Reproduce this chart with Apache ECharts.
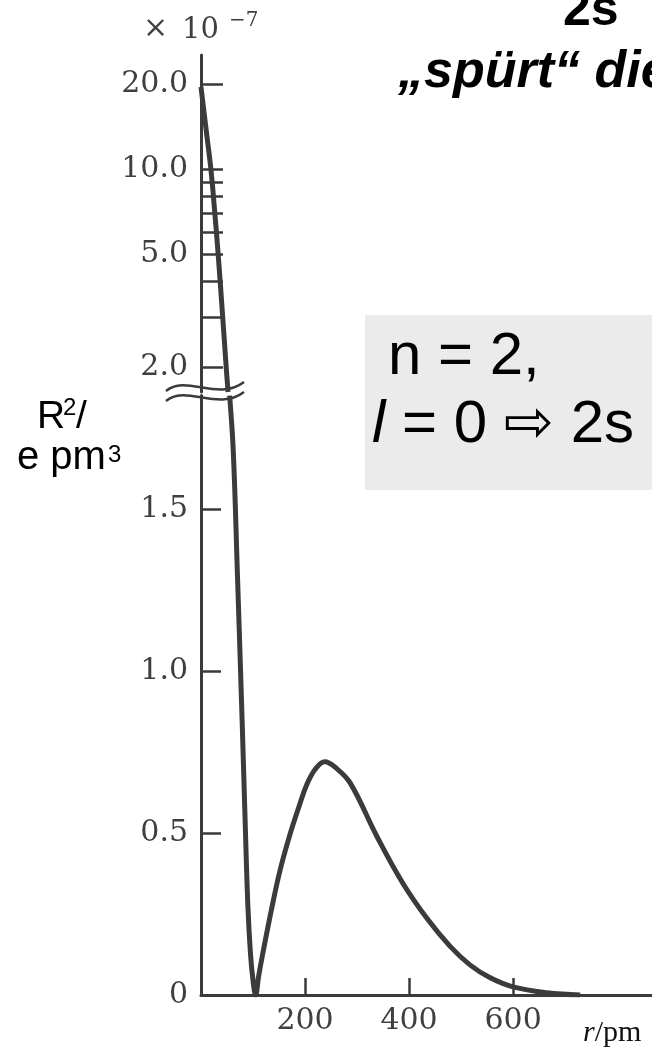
<!DOCTYPE html>
<html>
<head>
<meta charset="utf-8">
<script src="https://cdn.jsdelivr.net/npm/echarts@6/dist/echarts.min.js"></script>
<style>
html, body { margin: 0; padding: 0; background: #fff; }
#chart { width: 652px; height: 1050px; }
</style>
</head>
<body>
<div id="chart"></div>
<script>
// 上段（对数刻度，断轴以上）
const upperR = [0, 10, 19, 26, 33, 41, 48, 52];
const upperVal = [19.5, 13.7, 10, 7.2, 5, 3.13, 2.05, 1.63];

// 下段（线性刻度）
const lowerR = [55, 62, 70, 79, 85, 90, 95, 100, 105, 111, 119, 135, 152, 170, 187, 204, 221, 238, 260, 287, 338, 388, 435, 479, 517, 556, 600, 665, 729];
const lowerVal = [1.85, 1.68, 1.30, 0.85, 0.53, 0.28, 0.13, 0.045, 0, 0.06, 0.13, 0.26, 0.385, 0.49, 0.575, 0.652, 0.70, 0.72, 0.70, 0.654, 0.49, 0.345, 0.235, 0.15, 0.093, 0.053, 0.025, 0.007, 0];

// 刻度
const xTickVals = [200, 400, 600];
const lowTickVals = [0.5, 1.0, 1.5];
const lowLabelVals = [0, 0.5, 1.0, 1.5];
const logTickVals = [2, 3, 4, 5, 6, 7, 8, 9, 10, 20];
const logLabelVals = [2, 5, 10, 20];

const inkColor = '#3b3b3b';
const labelFont = { color: '#3f3f3f', fontFamily: 'DejaVu Serif', fontSize: 30 };

const chart = echarts.init(document.getElementById('chart'));

const option = {
    animation: false,
    backgroundColor: '#fff',
    grid: [
        { left: 201, top: 55, width: 451, height: 337 },
        { left: 201, top: 395.6, width: 451, height: 599.4 }
    ],
    xAxis: [
        { gridIndex: 0, type: 'value', min: 0, max: 867, show: false },
        {
            gridIndex: 1, type: 'value', min: 0, max: 867,
            axisLine: { lineStyle: { color: inkColor, width: 3 } },
            axisTick: { customValues: xTickVals, inside: true, length: 17, lineStyle: { color: inkColor, width: 2.5 } },
            axisLabel: Object.assign({ customValues: xTickVals, margin: 11 }, labelFont),
            splitLine: { show: false }
        }
    ],
    yAxis: [
        {
            gridIndex: 0, type: 'log', logBase: 10, min: 1.63, max: 25.3,
            axisLine: { show: true, lineStyle: { color: inkColor, width: 3 } },
            axisTick: { show: true, customValues: logTickVals, inside: true, length: 22, lineStyle: { color: inkColor, width: 2.5 } },
            axisLabel: Object.assign({
                customValues: logLabelVals, margin: 13,
                formatter: v => Number(v).toFixed(1)
            }, labelFont),
            splitLine: { show: false }
        },
        {
            gridIndex: 1, type: 'value', min: 0, max: 1.85,
            axisLine: { show: true, lineStyle: { color: inkColor, width: 3 } },
            axisTick: { show: true, customValues: lowTickVals, inside: true, length: 20, lineStyle: { color: inkColor, width: 2.5 } },
            axisLabel: Object.assign({
                customValues: lowLabelVals, margin: 13,
                formatter: v => (v === 0 ? '0' : Number(v).toFixed(1))
            }, labelFont),
            splitLine: { show: false }
        }
    ],
    series: [
        {
            type: 'line', xAxisIndex: 0, yAxisIndex: 0,
            data: upperR.map((r, i) => [r, upperVal[i]]),
            showSymbol: false, smooth: 0.4,
            lineStyle: { color: inkColor, width: 5 }
        },
        {
            type: 'line', xAxisIndex: 1, yAxisIndex: 1,
            data: lowerR.map((r, i) => [r, lowerVal[i]]),
            showSymbol: false, smooth: 0.4,
            lineStyle: { color: inkColor, width: 5 }
        }
    ],
    graphic: [
        // 灰色文本框
        { type: 'rect', z: 0, shape: { x: 365, y: 315, width: 300, height: 175 }, style: { fill: '#ebebeb' } },
        { type: 'text', z: 10, x: 388, y: 387, style: { text: 'n = 2,', font: '60px "Liberation Sans"', fill: '#000', verticalAlign: 'bottom' } },
        { type: 'text', z: 10, x: 372, y: 455, style: { text: '{i|l} = 0 \u21E8 2s', font: '60px "Liberation Sans", "DejaVu Sans"', fill: '#000', verticalAlign: 'bottom',
            rich: { i: { fontStyle: 'italic', fontSize: 60, fontFamily: 'Liberation Sans' } } } },
        // 标题（被裁切）
        { type: 'text', z: 10, x: 563, y: 36, style: { text: '2s', font: 'bold 50px "Liberation Sans"', fill: '#000', verticalAlign: 'bottom' } },
        { type: 'text', z: 10, x: 398, y: 99, style: { text: '\u201Esp\u00FCrt\u201C die', font: 'italic bold 52px "Liberation Sans"', fill: '#000', verticalAlign: 'bottom' } },
        // 纵轴名称
        { type: 'text', z: 10, x: 37, y: 437, style: { text: 'R', font: '39px "Liberation Sans"', fill: '#000', verticalAlign: 'bottom' } },
        { type: 'text', z: 10, x: 63, y: 420, style: { text: '2', font: '24px "Liberation Sans"', fill: '#000', verticalAlign: 'bottom' } },
        { type: 'text', z: 10, x: 76, y: 437, style: { text: '/', font: '39px "Liberation Sans"', fill: '#000', verticalAlign: 'bottom' } },
        { type: 'text', z: 10, x: 17, y: 478, style: { text: 'e pm', font: '40px "Liberation Sans"', fill: '#000', verticalAlign: 'bottom' } },
        { type: 'text', z: 10, x: 108, y: 467, style: { text: '3', font: '24px "Liberation Sans"', fill: '#000', verticalAlign: 'bottom' } },
        // 数量级
        { type: 'text', z: 10, x: 143, y: 44, style: { text: '\u00D7', font: '30px "DejaVu Serif"', fill: '#3f3f3f', verticalAlign: 'bottom' } },
        { type: 'text', z: 10, x: 182, y: 45, style: { text: '10', font: '29px "DejaVu Serif"', fill: '#3f3f3f', verticalAlign: 'bottom' } },
        { type: 'text', z: 10, x: 229, y: 31, style: { text: '\u22127', font: '20px "DejaVu Serif"', fill: '#3f3f3f', verticalAlign: 'bottom' } },
        // 横轴名称
        { type: 'text', z: 10, x: 583, y: 1048, style: { text: '{i|r}/pm', font: '30px "Liberation Serif"', fill: '#111', verticalAlign: 'bottom',
            rich: { i: { fontStyle: 'italic', fontSize: 30, fontFamily: 'Liberation Serif', fill: '#111' } } } },
        // 断轴波浪线
        { type: 'bezierCurve', z: 100, shape: { x1: 166, y1: 391, cpx1: 186, cpy1: 374, cpx2: 218, cpy2: 402, x2: 244, y2: 382 }, style: { stroke: inkColor, lineWidth: 2.5, fill: null } },
        { type: 'bezierCurve', z: 100, shape: { x1: 166, y1: 401, cpx1: 186, cpy1: 384, cpx2: 218, cpy2: 412, x2: 244, y2: 392 }, style: { stroke: inkColor, lineWidth: 2.5, fill: null } }
    ]
};

chart.setOption(option);
</script>
</body>
</html>
